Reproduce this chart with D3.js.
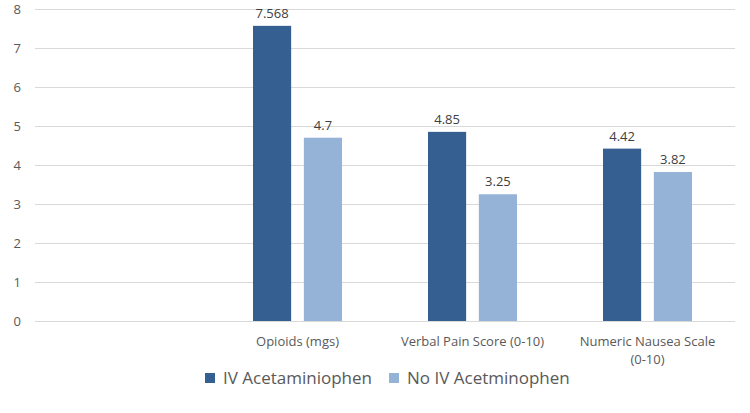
<!DOCTYPE html>
<html><head><meta charset="utf-8">
<script src="https://cdn.jsdelivr.net/npm/d3@7"></script>
<style>body{margin:0;background:#fff;}svg{display:block;font-family:"Open Sans","Noto Sans",sans-serif;}</style>
</head><body>
<svg id="c" width="750" height="413"></svg>
<script>
const categories = ["", "Opioids (mgs)", "Verbal Pain Score (0-10)", "Numeric Nausea Scale (0-10)"];
const categoryLines = [[""], ["Opioids (mgs)"], ["Verbal Pain Score (0-10)"], ["Numeric Nausea Scale", "(0-10)"]];
const seriesNames = ["IV Acetaminiophen", "No IV Acetminophen"];
const ivValues = [null, 7.568, 4.85, 4.42];
const noIvValues = [null, 4.7, 3.25, 3.82];
const valueLabels = [["", "7.568", "4.85", "4.42"], ["", "4.7", "3.25", "3.82"]];
const yTicks = [0, 1, 2, 3, 4, 5, 6, 7, 8];
const colors = ["#365f91", "#95b3d7"];

const svg = d3.select("#c");
const x = d3.scaleBand().domain(categories).range([35, 735]).paddingInner(0).paddingOuter(0);
const y = d3.scaleLinear().domain([0, 8]).range([321, 9]);
const inner = d3.scaleBand().domain([0, 1]).range([0, 89]).paddingInner(0.25);
const groupOffset = (x.bandwidth() - 89) / 2;

svg.append("g").selectAll("line").data(yTicks).join("line")
  .attr("x1", 35).attr("x2", 735)
  .attr("y1", d => Math.round(y(d)) + 0.5).attr("y2", d => Math.round(y(d)) + 0.5)
  .attr("stroke", "#d9d9d9").attr("stroke-width", 1);

svg.append("g").selectAll("text").data(yTicks).join("text")
  .attr("x", 21).attr("y", d => y(d)).attr("dy", "0.35em")
  .attr("text-anchor", "end").attr("font-size", 13).attr("fill", "#595959")
  .text(d => d);

const series = [ivValues, noIvValues];
series.forEach((vals, si) => {
  const data = categories.map((c, i) => ({c, v: vals[i], lab: valueLabels[si][i]})).filter(d => d.v != null);
  svg.append("g").selectAll("rect").data(data).join("rect")
    .attr("x", d => x(d.c) + groupOffset + inner(si))
    .attr("width", inner.bandwidth())
    .attr("y", d => y(d.v))
    .attr("height", d => y(0) - y(d.v))
    .attr("fill", colors[si]);
  svg.append("g").selectAll("text").data(data).join("text")
    .attr("x", d => x(d.c) + groupOffset + inner(si) + inner.bandwidth() / 2)
    .attr("y", d => y(d.v) - 8)
    .attr("text-anchor", "middle").attr("font-size", 13).attr("fill", "#404040")
    .text(d => d.lab);
});

categories.forEach((c, i) => {
  const t = svg.append("text")
    .attr("x", x(c) + x.bandwidth() / 2).attr("y", 346)
    .attr("text-anchor", "middle").attr("font-size", 13).attr("fill", "#595959");
  categoryLines[i].forEach((ln, j) => {
    t.append("tspan").attr("x", x(c) + x.bandwidth() / 2).attr("dy", j === 0 ? 0 : 18).text(ln);
  });
});

const legendX = [205, 389];
seriesNames.forEach((n, i) => {
  svg.append("rect").attr("x", legendX[i]).attr("y", 373).attr("width", 10).attr("height", 10).attr("fill", colors[i]);
  svg.append("text").attr("x", legendX[i] + 18).attr("y", 378).attr("dy", "0.35em")
    .attr("font-size", 17).attr("fill", "#595959").text(n);
});
</script>
</body></html>
